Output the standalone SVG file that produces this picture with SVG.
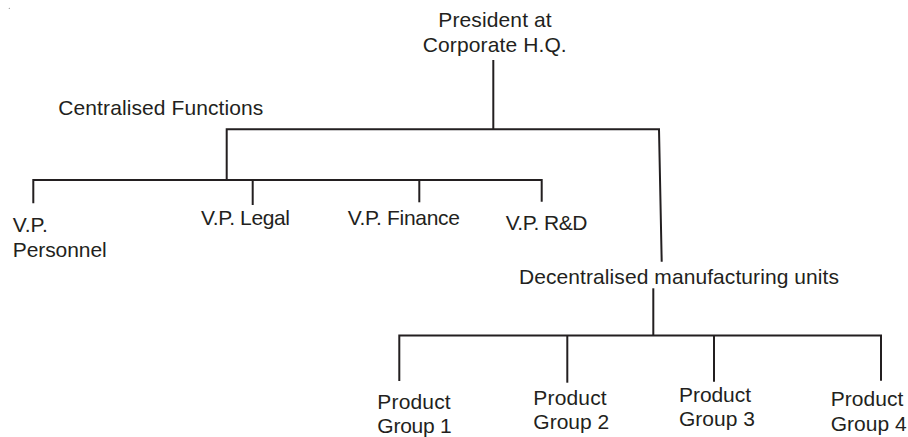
<svg xmlns="http://www.w3.org/2000/svg" width="908" height="437" viewBox="0 0 908 437">
<style>
text{font-family:"Liberation Sans",Arial,sans-serif;font-size:21px;fill:#231f20}
.c line,.c path{stroke:#231f20;stroke-width:2;fill:none}
</style>
<rect width="908" height="437" fill="#fff"/>
<circle cx="9.3" cy="8.3" r="0.6" fill="#888"/>
<g id="connectors" class="c">
<line x1="493.3" y1="60" x2="493.3" y2="129.3"/>
<path d="M226.7,180 V129.3 H659 L661.7,261.7"/>
<path d="M33.3,203.3 V180 H541.7 V201.7"/>
<line x1="252.7" y1="180" x2="252.7" y2="205"/>
<line x1="419.3" y1="180" x2="419.3" y2="202.3"/>
<line x1="653.3" y1="288.3" x2="653.3" y2="335.5"/>
<path d="M399.3,381 V335.5 H881 V380.7"/>
<line x1="567.3" y1="335.5" x2="567.3" y2="382.7"/>
<line x1="714" y1="335.5" x2="714" y2="381.7"/>
</g>
<g id="president"><text x="438.3" y="26.7" textLength="113.4">President at</text><text x="422.7" y="51.7" textLength="144">Corporate H.Q.</text></g>
<g id="centralised"><text x="58.3" y="115" textLength="205">Centralised Functions</text></g>
<g id="vp-personnel"><text x="12.7" y="231.7">V.P.</text><text x="12.7" y="257.3" textLength="94">Personnel</text></g>
<g id="vp-legal"><text x="201" y="225" textLength="89">V.P. Legal</text></g>
<g id="vp-finance"><text x="347.7" y="225" textLength="112.3">V.P. Finance</text></g>
<g id="vp-rd"><text x="505.8" y="230" textLength="81.5">V.P. R&amp;D</text></g>
<g id="decentralised"><text x="519" y="284" textLength="320">Decentralised manufacturing units</text></g>
<g id="pg1"><text x="377.3" y="409.3" textLength="73.4">Product</text><text x="377.3" y="433.3" textLength="74.4">Group 1</text></g>
<g id="pg2"><text x="533.3" y="405" textLength="73.4">Product</text><text x="533.3" y="429.3" textLength="76">Group 2</text></g>
<g id="pg3"><text x="679" y="401.7" textLength="72">Product</text><text x="679" y="425.7" textLength="76">Group 3</text></g>
<g id="pg4"><text x="830.7" y="405.7" textLength="72.6">Product</text><text x="830.7" y="430.7" textLength="76">Group 4</text></g>
</svg>
